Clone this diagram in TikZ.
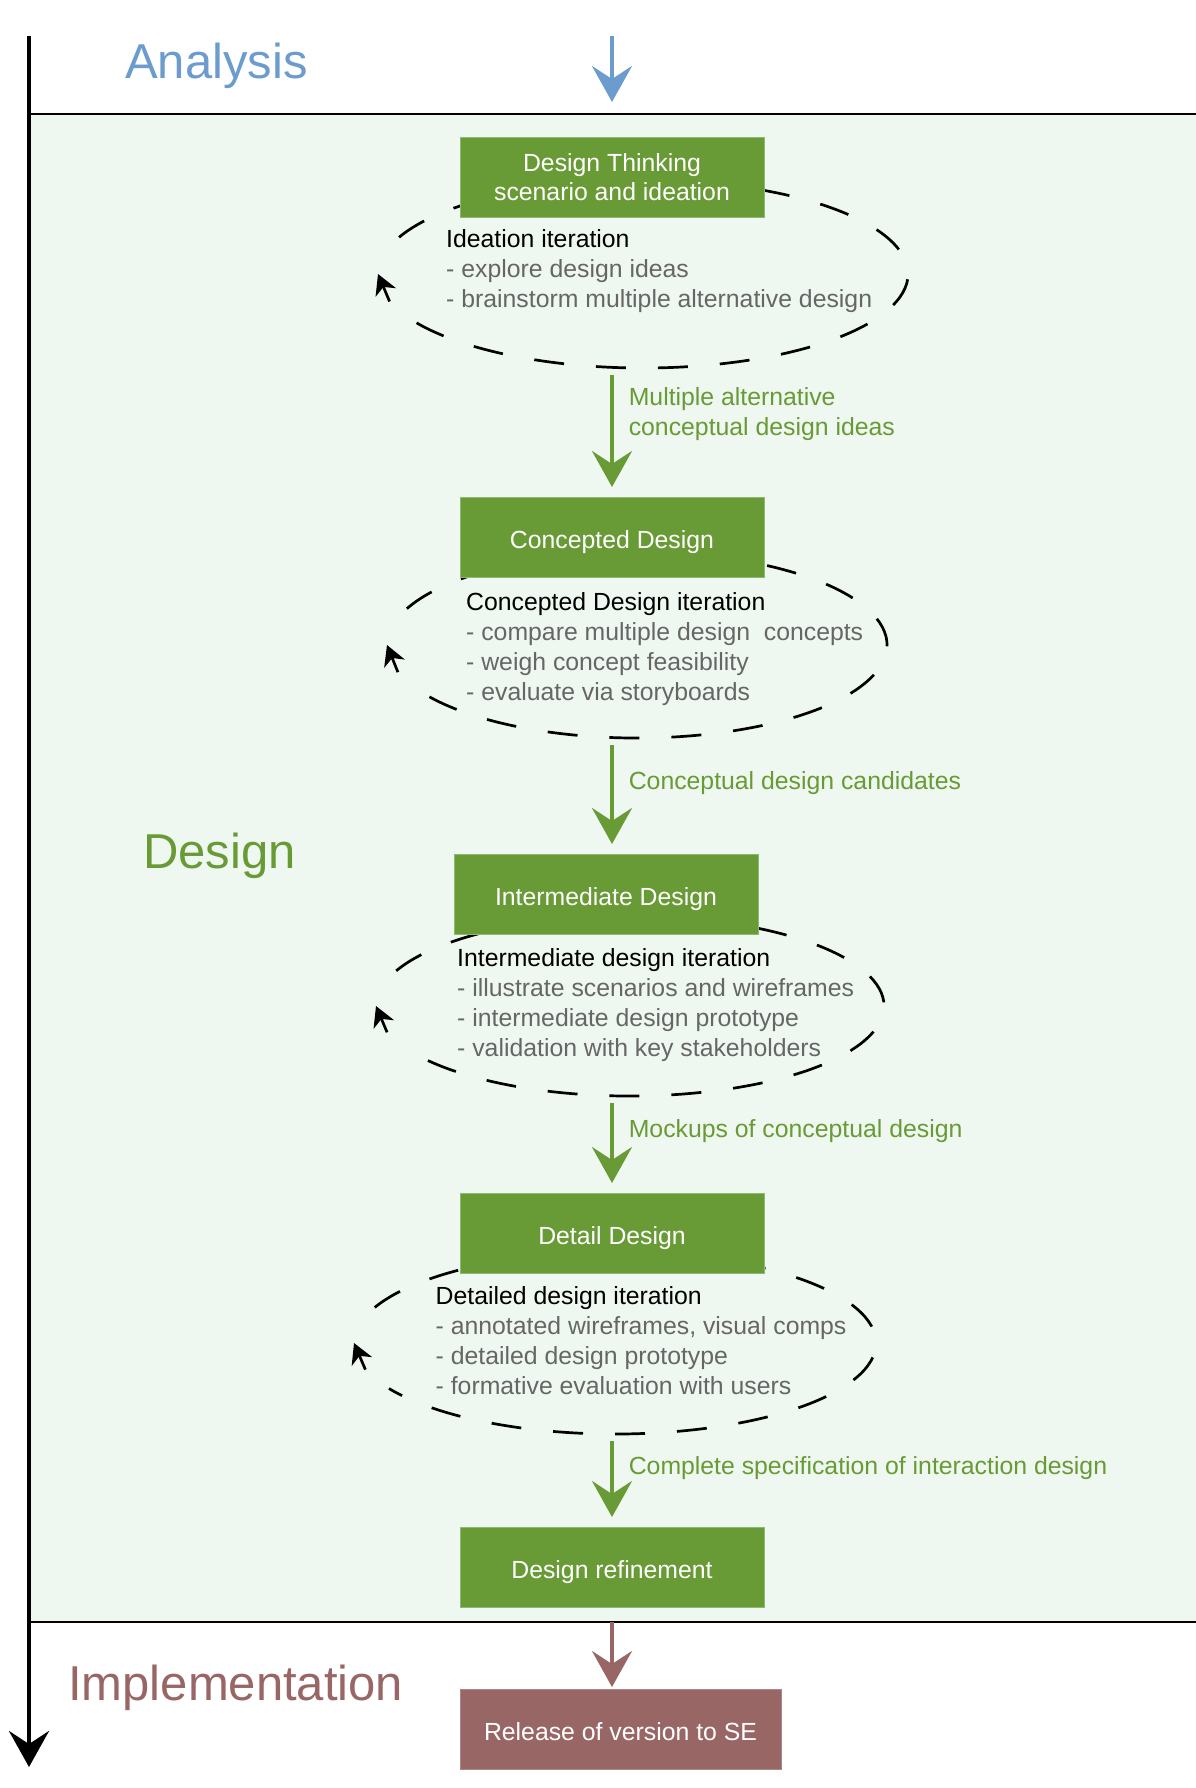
\documentclass[tikz,border=0pt]{standalone}
\usepackage{fontspec}
\setmainfont{Liberation Sans}
\usetikzlibrary{arrows.meta,shapes.geometric,positioning}
\definecolor{dgreen}{RGB}{104,154,53}
\definecolor{dblue}{RGB}{108,155,206}
\definecolor{dbrown}{RGB}{153,102,102}
\definecolor{bandgreen}{RGB}{239,248,240}
\definecolor{itemgray}{RGB}{102,102,102}
\definecolor{boxedge}{RGB}{140,186,110}
\newcommand\bodyfont{\fontsize{24.8}{30}\selectfont}
\newcommand\boxfont{\fontsize{24.8}{29}\selectfont}
\newcommand\phasefont{\fontsize{49}{58}\selectfont}
\tikzset{
  bigtip/.style={-{Stealth[length=36pt,width=40pt,inset=13pt]}},
  flow/.style={bigtip,line width=3.6pt,dgreen,shorten <=7pt,shorten >=10pt},
  flowlbl/.style={right,inner sep=0pt,xshift=15pt,text=dgreen,align=left,font=\bodyfont},
  stagebox/.style={fill=dgreen,draw=boxedge,line width=1pt,text=white,minimum width=304pt,
    minimum height=80pt,inner sep=0pt,align=center,font=\boxfont},
  onerow/.style={text height=22.6pt,text depth=0pt},
  iterzone/.style={ellipse,inner sep=0pt},
  iterloop/.style={dash pattern=on 30pt off 32pt,line width=2.7pt},
  iterhead/.style={line width=2.7pt,-{Stealth[length=20pt,width=22pt,inset=6pt]}},
  itertext/.style={right,inner sep=0pt,align=left,text=itemgray,font=\bodyfont},
  phase/.style={anchor=base west,inner sep=0pt,font=\phasefont},
  sepline/.style={line width=2pt},
}
\begin{document}
\begin{tikzpicture}[x=1pt,y=-1pt]
  \useasboundingbox (0,0) rectangle (1196,1788);
  \coordinate (sepA) at (29,114);
  \coordinate (sepB) at (29,1622);
  \coordinate (axtop) at (29,36);
  \coordinate (axbot) at (29,1767);
  \coordinate (intop) at (612,36);
  \coordinate (inbot) at (612,102);
  \fill[bandgreen] (sepA) rectangle (1196,1622);
  \draw[sepline] (sepA) -- (1196,114);
  \draw[sepline] (sepB) -- (1196,1622);
  \draw[bigtip,line width=4pt] (axtop) -- (axbot);
  \draw[bigtip,line width=3.6pt,dblue] (intop) -- (inbot);

  \node[phase,text=dblue] (ana) at (125,78) {Analysis};
  \node[phase,text=dgreen] (des) at (143,868) {Design};
  \node[phase,text=dbrown] (impl) at (68,1700) {Implementation};

  \foreach \n/\cx/\cy/\rx/\ry in {1/643/274/265/94, 2/637/645/250/93, 3/630/1006/254/90, 4/615/1343/261/91}{
    \node[iterzone,minimum width={2*\rx*1pt},minimum height={2*\ry*1pt}] (it\n) at (\cx,\cy) {};
    \begin{scope}[shift={(it\n.center)},x=\rx pt,y=-\ry pt]
      \draw[iterloop] (203:1) arc[start angle=203,end angle=510,radius=1];
      \draw[iterhead] (163:1) -- (180:1);
    \end{scope}
  }

  \node[stagebox] (ds1) at (612,177.5) {Design Thinking\\scenario and ideation};
  \node[stagebox,onerow] (ds2) at (612,537.5) {Concepted Design};
  \node[stagebox,onerow] (ds3) at (606,894.5) {Intermediate Design};
  \node[stagebox,onerow] (ds4) at (612,1233.5) {Detail Design};
  \node[stagebox,onerow] (ds5) at (612,1567.5) {Design refinement};
  \node[stagebox,onerow,fill=dbrown,draw=dbrown!80!white,minimum width=321pt] (rel) at (620.5,1729.5) {Release of version to SE};

  \node[itertext] (tx1) at (446,271) {\textcolor{black}{Ideation iteration}\\- explore design ideas\\- brainstorm multiple alternative design};
  \node[itertext] (tx2) at (466,649) {\textcolor{black}{Concepted Design iteration}\\- compare multiple design\ \ concepts\\- weigh concept feasibility\\- evaluate via storyboards};
  \node[itertext] (tx3) at (457,1005) {\textcolor{black}{Intermediate design iteration}\\- illustrate scenarios and wireframes\\- intermediate design prototype\\- validation with key stakeholders};
  \node[itertext] (tx4) at (435.5,1341) {\textcolor{black}{Detailed design iteration}\\- annotated wireframes, visual comps\\- detailed design prototype\\- formative evaluation with users};

  \draw[flow] (it1.south -| ds1) -- node[flowlbl,pos=.36]{Multiple alternative\\conceptual design ideas} (ds2.north -| ds1);
  \draw[flow] (it2.south -| ds1) -- node[flowlbl,pos=.39]{Conceptual design candidates} (ds3.north -| ds1);
  \draw[flow] (it3.south -| ds1) -- node[flowlbl,pos=.36]{Mockups of conceptual design} (ds4.north -| ds1);
  \draw[flow] (it4.south -| ds1) -- node[flowlbl,pos=.36]{Complete specification of interaction design} (ds5.north -| ds1);
  \draw[bigtip,line width=3.6pt,dbrown,shorten >=2pt] (sepB -| ds5) -- (rel.north -| ds5);
\end{tikzpicture}
\end{document}
